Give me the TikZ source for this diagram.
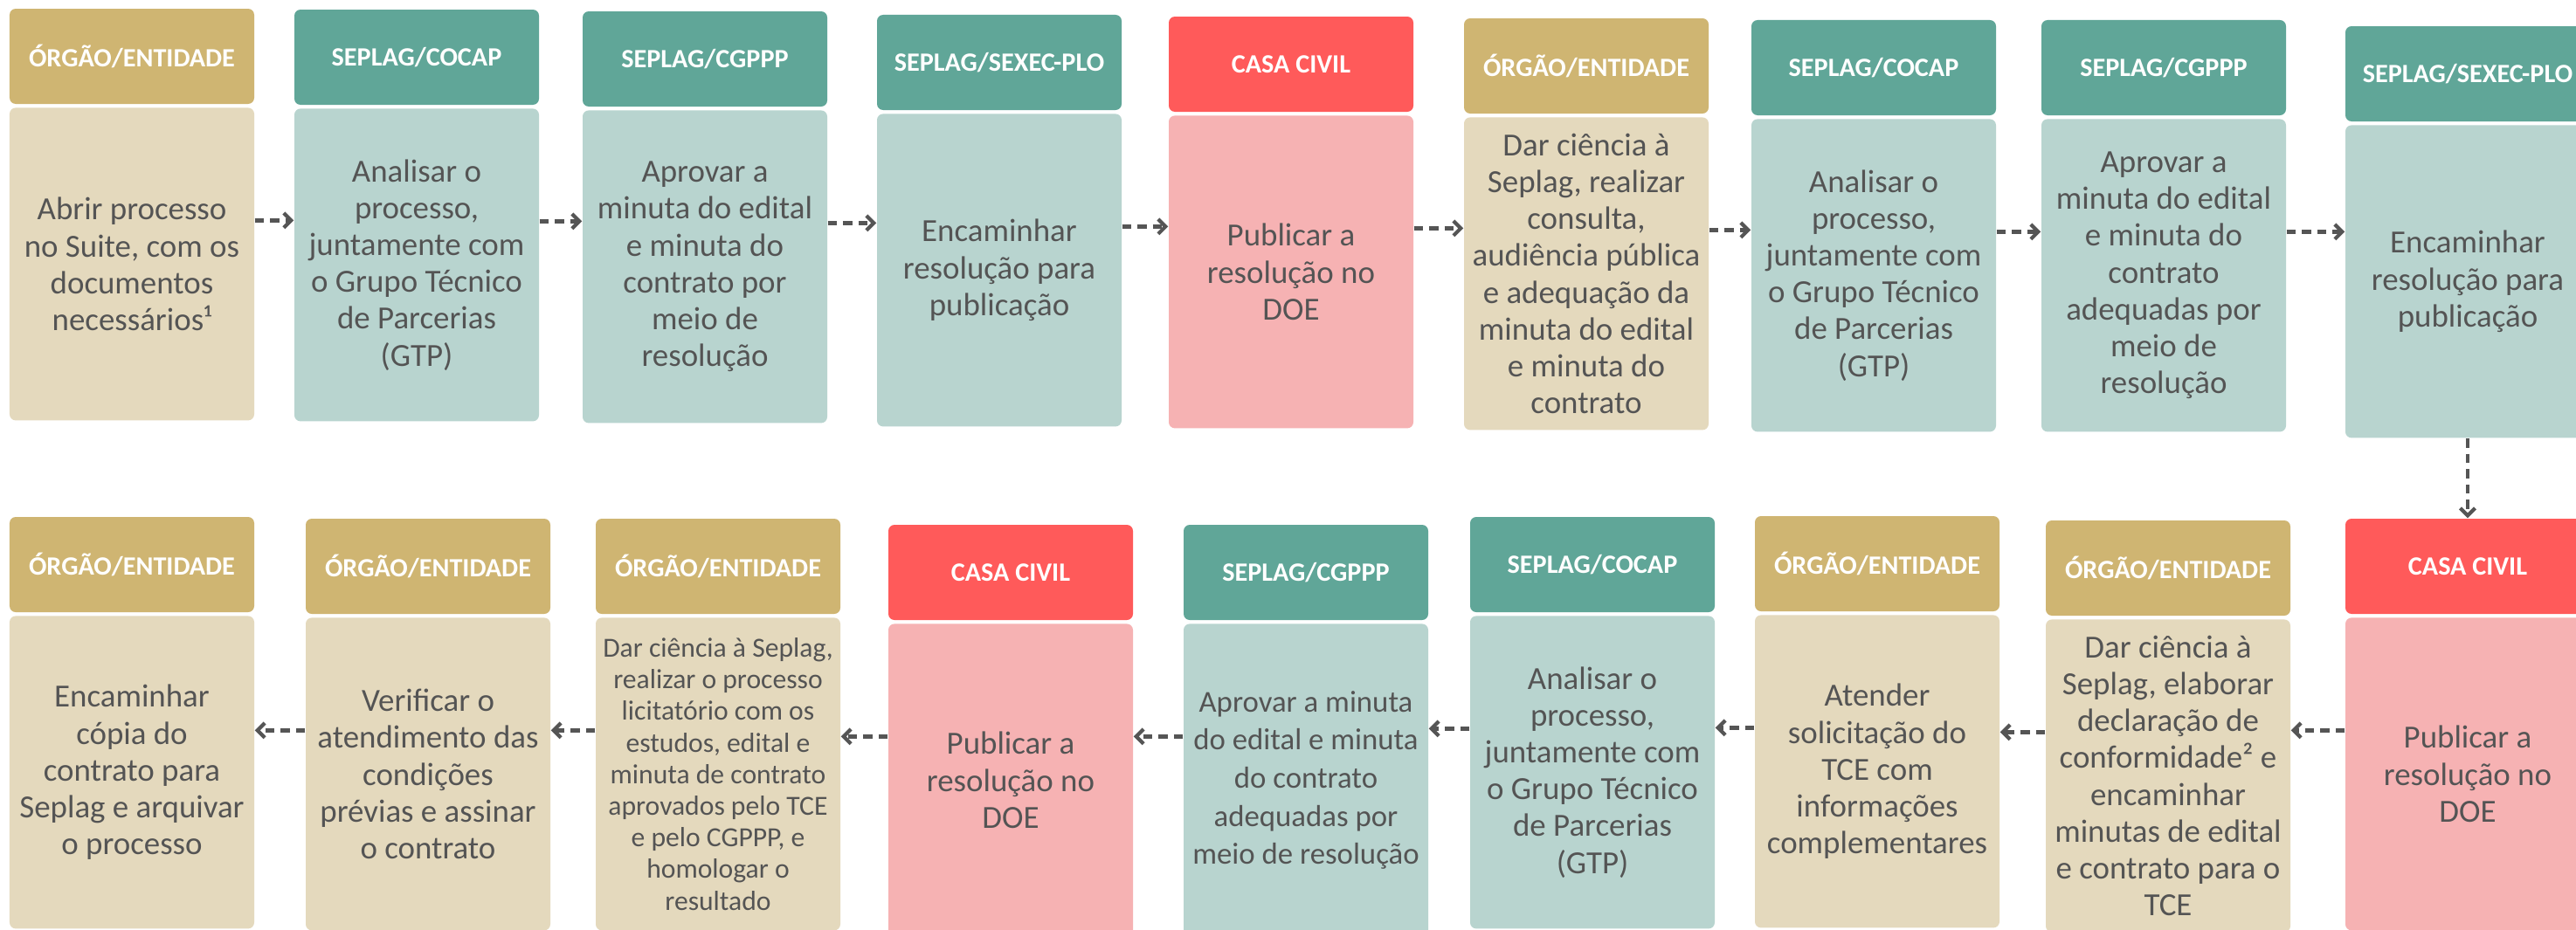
\documentclass[tikz,border=0pt]{standalone}
\usepackage{fontspec}
\setmainfont{Carlito}
\usepackage{tikz}
\usetikzlibrary{arrows.meta,positioning}
\definecolor{orgh}{HTML}{CFB572}
\definecolor{orgb}{HTML}{E4D9BD}
\definecolor{seph}{HTML}{60A698}
\definecolor{sepb}{HTML}{B8D4CF}
\definecolor{cch}{HTML}{FF5A5A}
\definecolor{ccb}{HTML}{F6B2B3}
\definecolor{txtgray}{HTML}{545454}
\definecolor{arrgray}{HTML}{555555}

\begin{document}
\begin{tikzpicture}[node distance=0.03cm,
		flow/.style={draw=arrgray,line width=1.2pt,dash pattern=on 3pt off 2pt,-{Straight Barb[length=2.4pt,width=4.8pt]}},
		head/.style={rectangle,rounded corners=0.7mm,minimum width=2.8cm,minimum height=1.09cm,inner sep=0pt,text=white,font=\fontsize{8.6}{10}\selectfont\bfseries},
		body/.style={rectangle,rounded corners=0.7mm,minimum width=2.8cm,minimum height=3.58cm,inner sep=0pt,align=center,text=txtgray,font=\fontsize{10.5}{12}\selectfont}]
		\useasboundingbox (0,0) rectangle (29.49,10.64);
		\fill[white] (0,0) rectangle (29.49,10.64);
		\clip (0,0) rectangle (29.49,10.64);

		\node[head,fill=orgh] (abrirh) at (1.51,9.995) {ÓRGÃO/ENTIDADE};
		\node[body,fill=orgb,below=of abrirh] (abrir) {Abrir processo\\no Suite, com os\\documentos\\necessários¹};
		\node[head,fill=seph] (analisah) at (4.77,9.985) {SEPLAG/COCAP};
		\node[body,fill=sepb,below=of analisah] (analisa) {Analisar o\\processo,\\juntamente com\\o Grupo Técnico\\de Parcerias\\(GTP)};
		\node[head,fill=seph] (aprovah) at (8.07,9.965) {SEPLAG/CGPPP};
		\node[body,fill=sepb,below=of aprovah] (aprova) {Aprovar a\\minuta do edital\\e minuta do\\contrato por\\meio de\\resolução};
		\node[head,fill=seph] (encamh) at (11.44,9.925) {SEPLAG/SEXEC-PLO};
		\node[body,fill=sepb,below=of encamh] (encam) {Encaminhar\\resolução para\\publicação};
		\node[head,fill=cch] (publicah) at (14.78,9.905) {CASA CIVIL};
		\node[body,fill=ccb,below=of publicah] (publica) {Publicar a\\resolução no\\DOE};
		\node[head,fill=orgh] (cienciah) at (18.16,9.885) {ÓRGÃO/ENTIDADE};
		\node[body,fill=orgb,below=of cienciah] (ciencia) {Dar ciência à\\Seplag, realizar\\consulta,\\audiência pública\\e adequação da\\minuta do edital\\e minuta do\\contrato};
		\node[head,fill=seph] (analisabh) at (21.45,9.865) {SEPLAG/COCAP};
		\node[body,fill=sepb,below=of analisabh] (analisab) {Analisar o\\processo,\\juntamente com\\o Grupo Técnico\\de Parcerias\\(GTP)};
		\node[head,fill=seph] (aprovabh) at (24.77,9.865) {SEPLAG/CGPPP};
		\node[body,fill=sepb,below=of aprovabh] (aprovab) {Aprovar a\\minuta do edital\\e minuta do\\contrato\\adequadas por\\meio de\\resolução};
		\node[head,fill=seph] (encambh) at (28.25,9.795) {SEPLAG/SEXEC-PLO};
		\node[body,fill=sepb,below=of encambh] (encamb) {Encaminhar\\resolução para\\publicação};

		\node[head,fill=cch] (publicach) at (28.25,4.155) {CASA CIVIL};
		\node[body,fill=ccb,below=of publicach] (publicac) {Publicar a\\resolução no\\DOE};
		\node[head,fill=orgh] (declarah) at (24.82,4.135) {ÓRGÃO/ENTIDADE};
		\node[body,fill=orgb,below=of declarah] (declara) {Dar ciência à\\Seplag, elaborar\\declaração de\\conformidade² e\\encaminhar\\minutas de edital\\e contrato para o\\TCE};
		\node[head,fill=orgh] (atendeh) at (21.49,4.185) {ÓRGÃO/ENTIDADE};
		\node[body,fill=orgb,below=of atendeh] (atende) {Atender\\solicitação do\\TCE com\\informações\\complementares};
		\node[head,fill=seph] (analisach) at (18.23,4.175) {SEPLAG/COCAP};
		\node[body,fill=sepb,below=of analisach] (analisac) {Analisar o\\processo,\\juntamente com\\o Grupo Técnico\\de Parcerias\\(GTP)};
		\node[head,fill=seph] (aprovach) at (14.95,4.085) {SEPLAG/CGPPP};
		\node[body,fill=sepb,below=of aprovach,font=\fontsize{9.9}{12.4}\selectfont] (aprovac) {Aprovar a minuta\\do edital e minuta\\do contrato\\adequadas por\\meio de resolução};
		\node[head,fill=cch] (publicadh) at (11.57,4.085) {CASA CIVIL};
		\node[body,fill=ccb,below=of publicadh] (publicad) {Publicar a\\resolução no\\DOE};
		\node[head,fill=orgh] (licitah) at (8.22,4.155) {ÓRGÃO/ENTIDADE};
		\node[body,fill=orgb,below=of licitah,font=\fontsize{9}{10.3}\selectfont] (licita) {Dar ciência à Seplag,\\realizar o processo\\licitatório com os\\estudos, edital e\\minuta de contrato\\aprovados pelo TCE\\e pelo CGPPP, e\\homologar o\\resultado};
		\node[head,fill=orgh] (verificah) at (4.90,4.155) {ÓRGÃO/ENTIDADE};
		\node[body,fill=orgb,below=of verificah] (verifica) {Verificar o\\atendimento das\\condições\\prévias e assinar\\o contrato};
		\node[head,fill=orgh] (arquivah) at (1.51,4.175) {ÓRGÃO/ENTIDADE};
		\node[body,fill=orgb,below=of arquivah] (arquiva) {Encaminhar\\cópia do\\contrato para\\Seplag e arquivar\\o processo};

		\draw[flow] ([yshift=5mm]abrir.east) -- ([yshift=5mm]abrir.east -| analisa.west);
		\draw[flow] ([yshift=5mm]analisa.east) -- ([yshift=5mm]analisa.east -| aprova.west);
		\draw[flow] ([yshift=5mm]aprova.east) -- ([yshift=5mm]aprova.east -| encam.west);
		\draw[flow] ([yshift=5mm]encam.east) -- ([yshift=5mm]encam.east -| publica.west);
		\draw[flow] ([yshift=5mm]publica.east) -- ([yshift=5mm]publica.east -| ciencia.west);
		\draw[flow] ([yshift=5mm]ciencia.east) -- ([yshift=5mm]ciencia.east -| analisab.west);
		\draw[flow] ([yshift=5mm]analisab.east) -- ([yshift=5mm]analisab.east -| aprovab.west);
		\draw[flow] ([yshift=5mm]aprovab.east) -- ([yshift=5mm]aprovab.east -| encamb.west);
		\draw[flow] (encamb.south) -- (publicach.north);
		\draw[flow] ([yshift=5mm]publicac.west) -- ([yshift=5mm]publicac.west -| declara.east);
		\draw[flow] ([yshift=5mm]declara.west) -- ([yshift=5mm]declara.west -| atende.east);
		\draw[flow] ([yshift=5mm]atende.west) -- ([yshift=5mm]atende.west -| analisac.east);
		\draw[flow] ([yshift=5mm]analisac.west) -- ([yshift=5mm]analisac.west -| aprovac.east);
		\draw[flow] ([yshift=5mm]aprovac.west) -- ([yshift=5mm]aprovac.west -| publicad.east);
		\draw[flow] ([yshift=5mm]publicad.west) -- ([yshift=5mm]publicad.west -| licita.east);
		\draw[flow] ([yshift=5mm]licita.west) -- ([yshift=5mm]licita.west -| verifica.east);
		\draw[flow] ([yshift=5mm]verifica.west) -- ([yshift=5mm]verifica.west -| arquiva.east);
	\end{tikzpicture}
\end{document}
